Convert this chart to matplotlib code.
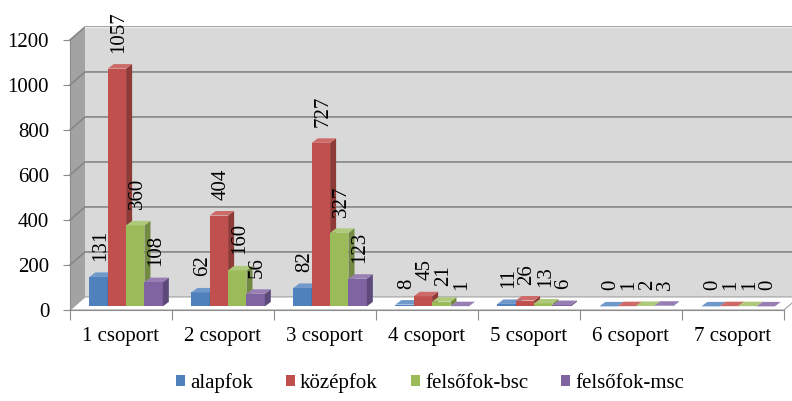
"""
Grouped pseudo-3D column chart: education level by group
"""

import matplotlib
matplotlib.use('Agg')
import matplotlib.pyplot as plt
from matplotlib.patches import Polygon, Patch

plt.rcParams['font.family'] = ['Liberation Serif', 'DejaVu Serif']

categories = ['1 csoport', '2 csoport', '3 csoport', '4 csoport',
              '5 csoport', '6 csoport', '7 csoport']
series_names = ['alapfok', 'középfok', 'felsőfok-bsc', 'felsőfok-msc']
alapfok = [131, 62, 82, 8, 11, 0, 0]
kozepfok = [1057, 404, 727, 45, 26, 1, 1]
bsc = [360, 160, 327, 21, 13, 2, 1]
msc = [108, 56, 123, 1, 6, 3, 0]
yticks = [0, 200, 400, 600, 800, 1000, 1200]

series = [alapfok, kozepfok, bsc, msc]
front_colors = ['#4F81BD', '#C0504D', '#9BBB59', '#8064A2']
side_colors = ['#3A6190', '#8E3B38', '#728A41', '#5E4A7A']
top_colors = ['#6F98CB', '#CD6B68', '#AFC97A', '#977FB4']

# depth offsets in data units (wall depth and bar depth)
DX, DY = 0.147, 58.0
BX, BY = 0.04, 16.0
BDX, BDY = 0.059, 20.0
bar_w = 0.18
group_start = 0.15
FS = 15

fig = plt.figure(figsize=(7.92, 4.01), dpi=100)
ax = fig.add_axes([70 / 792, 91 / 401, 714 / 792, 270 / 401])
ax.set_xlim(0, 7)
ax.set_ylim(0, 1200)
ymax = 1200
n = len(categories)

# walls and floor
side_wall = Polygon([(0, 0), (0, ymax), (DX, ymax + DY), (DX, DY)],
                    closed=True, facecolor='#A3A3A3', edgecolor='none',
                    clip_on=False, zorder=0)
back_wall = Polygon([(DX, DY), (DX, ymax + DY), (n + DX, ymax + DY), (n + DX, DY)],
                    closed=True, facecolor='#D9D9D9', edgecolor='none',
                    clip_on=False, zorder=0)
floor = Polygon([(0, 0), (n, 0), (n + DX, DY), (DX, DY)],
                closed=True, facecolor='#FFFFFF', edgecolor='#A0A0A0',
                lw=0.8, clip_on=False, zorder=1)
for p in (side_wall, back_wall, floor):
    ax.add_patch(p)

for t in yticks[1:]:
    ax.plot([0, DX, n + DX], [t, t + DY, t + DY], color='#868686', lw=1.2,
            clip_on=False, zorder=1)
ax.plot([DX, n + DX], [ymax + DY, ymax + DY], color='#EDEDED', lw=1.0,
        clip_on=False, zorder=1)

# bars: front, side, top, drawn left to right
for ci in range(n):
    for si, vals in enumerate(series):
        v = vals[ci]
        x0 = ci + group_start + si * bar_w + BX
        x1 = x0 + bar_w
        y0 = BY
        y1 = v + BY
        front = Polygon([(x0, y0), (x1, y0), (x1, y1), (x0, y1)],
                        facecolor=front_colors[si], edgecolor='none',
                        clip_on=False, zorder=3)
        side = Polygon([(x1, y0), (x1 + BDX, y0 + BDY), (x1 + BDX, y1 + BDY), (x1, y1)],
                       facecolor=side_colors[si], edgecolor='none',
                       clip_on=False, zorder=3)
        top = Polygon([(x0, y1), (x1, y1), (x1 + BDX, y1 + BDY), (x0 + BDX, y1 + BDY)],
                      facecolor=top_colors[si], edgecolor='none',
                      clip_on=False, zorder=3)
        for p in (front, side, top):
            ax.add_patch(p)
        ax.annotate(str(v), ((x0 + x1) / 2, y1), xytext=(2, 16),
                    textcoords='offset pixels', rotation=90,
                    ha='center', va='bottom', fontsize=FS, zorder=5,
                    annotation_clip=False)

# axes styling
for s in ('top', 'right'):
    ax.spines[s].set_visible(False)
ax.spines['left'].set_color('#8C8C8C')
ax.spines['bottom'].set_color('#8C8C8C')
ax.set_facecolor('none')
ax.set_yticks(yticks)
ax.set_yticklabels([str(t) for t in yticks], fontsize=FS)
ax.tick_params(axis='y', length=5, color='#8C8C8C', pad=10)
ax.set_xticks(range(n + 1))
ax.set_xticklabels([])
ax.tick_params(axis='x', which='major', length=7, color='#8C8C8C')
ax.set_xticks([i + 0.5 for i in range(n)], minor=True)
ax.set_xticklabels(categories, minor=True, fontsize=FS)
ax.tick_params(axis='x', which='minor', length=0, pad=12)

handles = [Patch(facecolor=c, edgecolor='none') for c in front_colors]
fig.legend(handles, series_names, loc='center', bbox_to_anchor=(0.543, 1 - 383 / 401),
           ncol=4, frameon=False, fontsize=FS, handlelength=0.42, handleheight=0.42,
           handletextpad=0.25, columnspacing=1.6)

plt.savefig('out.png', dpi=100)
